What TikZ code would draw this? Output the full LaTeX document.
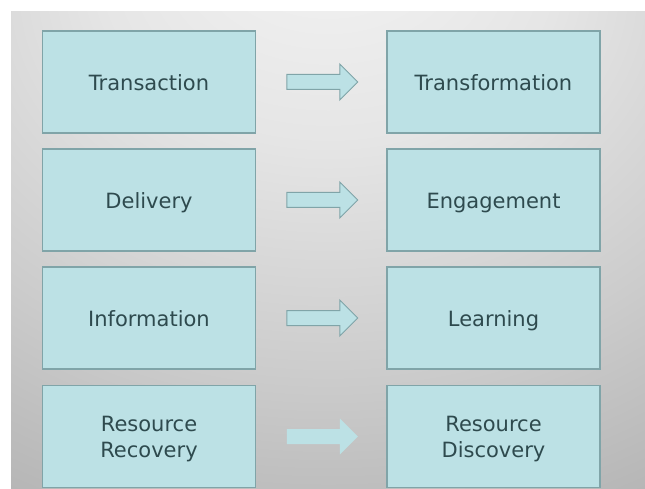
\documentclass[tikz,border=0pt]{standalone}
\usepackage{fontspec}
\setmainfont{DejaVu Sans}
\usetikzlibrary{calc}
\definecolor{boxfill}{RGB}{188,225,229}
\definecolor{boxline}{RGB}{128,164,168}
\definecolor{txtcol}{RGB}{46,74,78}
\pgfdeclareradialshading{bgshade}{\pgfpoint{0bp}{36bp}}{%
  color(0bp)=(white!96!black);
  color(18bp)=(white!90!black);
  color(36bp)=(white!80!black);
  color(60bp)=(white!65!black);
  color(85bp)=(white!59!black);
  color(100bp)=(white!54!black)}
\tikzset{
  box/.style={draw=boxline, line width=1.2pt, fill=boxfill, minimum width=213pt,
    minimum height=102pt, inner sep=0pt, align=center, text=txtcol,
    font=\fontsize{21}{26}\selectfont, text height=21pt,
    execute at begin node={\vphantom{Ty}}},
  twoline/.style={text height=47pt},
  blockarrow/.style={draw=boxline, line width=1pt, fill=boxfill, line join=miter},
}
\newcommand\blkarrow[2][]{%
  \draw[blockarrow,#1] ($(#2)+(-35.5,-7.5)$) -- ++(53,0) -- ++(0,-10.5)
    -- ++(18,18) -- ++(-18,18) -- ++(0,-10.5) -- ++(-53,0) -- cycle;}
\begin{document}
\begin{tikzpicture}[x=1pt,y=-1pt]
\useasboundingbox (0,0) rectangle (645,489);
\fill[white] (0,0) rectangle (645,489);
\shade[shading=bgshade] (11,12) rectangle (645,489);
\node[box] (l1) at (149,82) {Transaction};
\node[box] (r1) at (493.5,82) {Transformation};
\node[box] (l2) at (149,200) {Delivery};
\node[box] (r2) at (493.5,200) {Engagement};
\node[box] (l3) at (149,318) {Information};
\node[box] (r3) at (493.5,318) {Learning};
\node[box,twoline] (l4) at (149,436.5) {Resource\\Recovery};
\node[box,twoline] (r4) at (493.5,436.5) {Resource\\Discovery};
\coordinate (a1) at ($(l1.east)!0.5!(r1.west)+(1,0)$);
\coordinate (a2) at ($(l2.east)!0.5!(r2.west)+(1,0)$);
\coordinate (a3) at ($(l3.east)!0.5!(r3.west)+(1,0)$);
\coordinate (a4) at ($(l4.east)!0.5!(r4.west)+(1,0)$);
\blkarrow{a1}
\blkarrow{a2}
\blkarrow{a3}
\blkarrow[draw=none]{a4}
\end{tikzpicture}
\end{document}
